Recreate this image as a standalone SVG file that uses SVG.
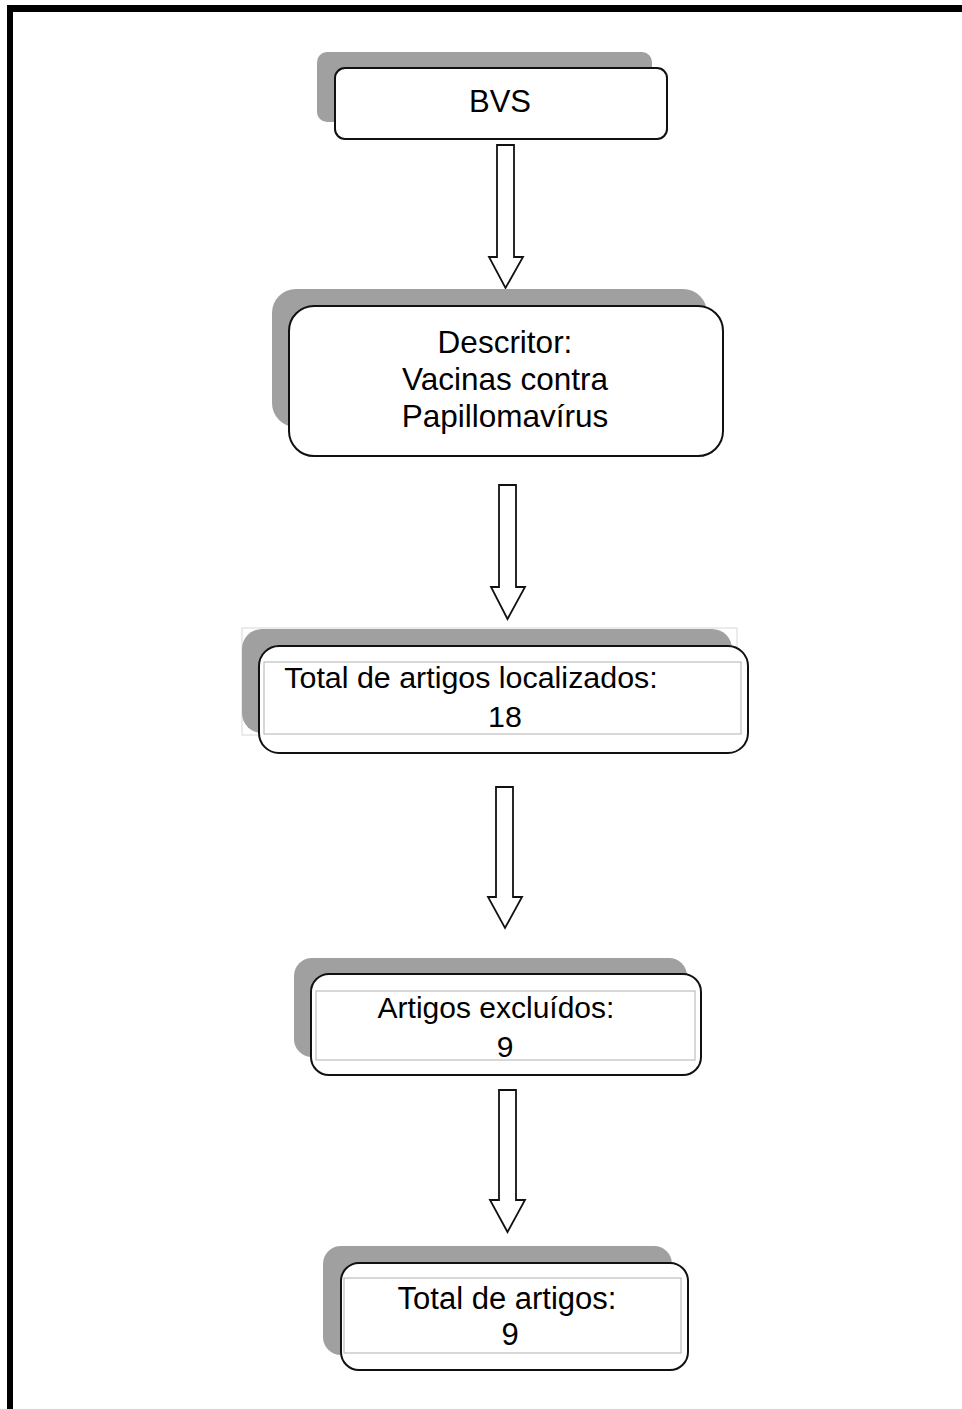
<svg xmlns="http://www.w3.org/2000/svg" width="962" height="1409" viewBox="0 0 962 1409">
<style>
.shadow{fill:#a0a0a0;stroke:none}
.box{fill:#ffffff;stroke:#111111;stroke-width:2}
.inner{fill:none;stroke:#b0b0b0;stroke-width:1}
.frame{fill:none;stroke:#d8d8d8;stroke-width:1}
.arrow{fill:#ffffff;stroke:#111111;stroke-width:1.8;stroke-linejoin:miter}
.t{font-family:"Liberation Sans",Arial,sans-serif;font-size:30px;fill:#000;text-anchor:middle}
</style>
<rect x="0" y="0" width="962" height="1409" fill="#ffffff"/>
<g id="border">
<rect x="7" y="5" width="955" height="7" fill="#000"/>
<rect x="7" y="5" width="6" height="1404" fill="#000"/>
</g>
<g id="connectors">
<path class="arrow" d="M497,145 H514 V257 H523 L505.5,288 L489,257 H497 Z"/>
<path class="arrow" d="M499,485 H516 V587 H525 L507.5,619 L491,587 H499 Z"/>
<path class="arrow" d="M496,787 H513 V897 H522 L505,928 L488,897 H496 Z"/>
<path class="arrow" d="M499,1090 H516 V1200 H525 L507.5,1232 L490,1200 H499 Z"/>
</g>
<g id="node-bvs">
<rect class="shadow" x="317" y="52" width="335" height="70" rx="10"/>
<rect class="box" x="335" y="68" width="332" height="71" rx="10"/>
<text class="t" x="500" y="112" style="font-size:31px">BVS</text>
</g>
<g id="node-descritor">
<rect class="shadow" x="272" y="289" width="435" height="138" rx="24"/>
<rect class="box" x="289" y="306" width="434" height="150" rx="25"/>
<text class="t" x="505" y="353" style="font-size:31.5px">Descritor:</text>
<text class="t" x="505" y="390" style="font-size:31.5px">Vacinas contra</text>
<text class="t" x="505" y="427" style="font-size:31.5px">Papillomavírus</text>
</g>
<g id="node-total-localizados">
<rect class="frame" x="242" y="628" width="495" height="107"/>
<rect class="shadow" x="242" y="629" width="490" height="104" rx="20"/>
<rect class="box" x="259" y="646" width="489" height="107" rx="20"/>
<rect class="inner" x="264" y="662" width="477" height="72"/>
<text class="t" x="471" y="688" style="font-size:30.4px">Total de artigos localizados:</text>
<text class="t" x="505" y="727" style="font-size:30.4px">18</text>
</g>
<g id="node-excluidos">
<rect class="shadow" x="294" y="958" width="393" height="99" rx="18"/>
<rect class="box" x="311" y="974" width="390" height="101" rx="18"/>
<rect class="inner" x="316" y="991" width="379" height="69"/>
<text class="t" x="496" y="1018">Artigos excluídos:</text>
<text class="t" x="505" y="1057">9</text>
</g>
<g id="node-total">
<rect class="shadow" x="323" y="1246" width="349" height="109" rx="18"/>
<rect class="box" x="341" y="1263" width="347" height="107" rx="18"/>
<rect class="inner" x="344" y="1278" width="337" height="75"/>
<text class="t" x="507" y="1309" style="font-size:31px">Total de artigos:</text>
<text class="t" x="510" y="1345" style="font-size:31px">9</text>
</g>
</svg>
